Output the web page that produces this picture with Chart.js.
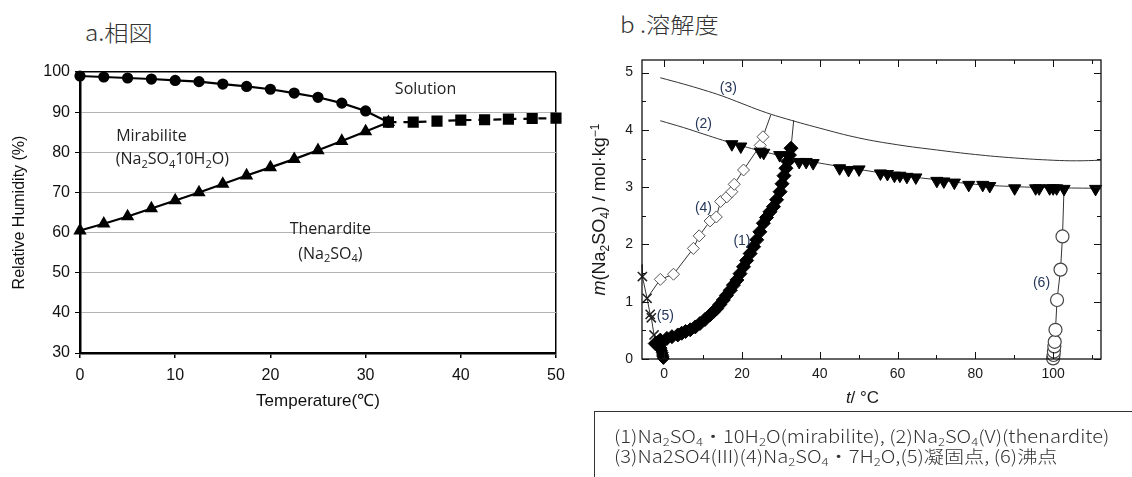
<!DOCTYPE html>
<html>
<head>
<meta charset="utf-8">
<script src="https://cdn.jsdelivr.net/npm/chart.js@4.4.1/dist/chart.umd.min.js"></script>
<style>
  html, body { margin: 0; padding: 0; background: #fff; }
  body { width: 1132px; height: 477px; position: relative; overflow: hidden; font-family: "Noto Sans CJK JP", sans-serif; }
  canvas { position: absolute; }
  #phase { left: 0; top: 0; }
  #solub { left: 580px; top: 0; }
  .title { position: absolute; font-size: 22px; color: #333; font-weight: 300; line-height: 1; white-space: nowrap;
           transform: scaleX(1.1); transform-origin: left top; }
  #titleA { left: 85px; top: 20px; }
  #titleB { left: 620px; top: 12px; }
  #notes { position: absolute; left: 594px; top: 411px; width: 560px; height: 90px; border: 1.5px solid #333; box-sizing: border-box; }
  #notesText { position: absolute; left: 19px; top: 14px; font-size: 17.5px; line-height: 20px; color: #333; font-weight: 300; white-space: nowrap;
               transform: scaleX(1.15); transform-origin: left top; }
  .sb { font-size: 0.65em; vertical-align: -0.25em; line-height: 0; }
</style>
</head>
<body>
<div class="title" id="titleA">a.相図</div>
<div class="title" id="titleB">b .溶解度</div>
<canvas id="phase" width="580" height="420"></canvas>
<canvas id="solub" width="552" height="412"></canvas>
<div id="notes"><div id="notesText">(1)Na<span class="sb">2</span>SO<span class="sb">4</span>・10H<span class="sb">2</span>O(mirabilite), (2)Na<span class="sb">2</span>SO<span class="sb">4</span>(V)(thenardite)<br>(3)Na2SO4(III)(4)Na<span class="sb">2</span>SO<span class="sb">4</span>・7H<span class="sb">2</span>O,(5)凝固点, (6)沸点</div></div>
<script>
// ---- a. phase diagram ----
const phaseTicksX = [0, 10, 20, 30, 40, 50];
const phaseTicksY = [30, 40, 50, 60, 70, 80, 90, 100];
const mirabiliteTemp = [0, 2.5, 5, 7.5, 10, 12.5, 15, 17.5, 20, 22.5, 25, 27.5, 30, 32.4];
const mirabiliteSolutionRH = [99.0, 98.75, 98.5, 98.25, 97.9, 97.6, 97.0, 96.4, 95.7, 94.75, 93.7, 92.25, 90.3, 87.5];
const thenarditeMirabiliteRH = [60.5, 62.2, 64.0, 66.0, 68.0, 70.0, 72.1, 74.2, 76.25, 78.3, 80.5, 82.8, 85.2, 87.5];
const thenarditeTemp = [32.4, 35, 37.5, 40, 42.5, 45, 47.5, 50];
const thenarditeSolutionRH = [87.5, 87.5, 87.75, 88.0, 88.1, 88.25, 88.4, 88.5];

// ---- b. solubility ----
const solTicksX = [0, 20, 40, 60, 80, 100];
const solTicksY = [0, 1, 2, 3, 4, 5];
const solMinorX = [10, 30, 50, 70, 90, 110];
const solMinorY = [0.5, 1.5, 2.5, 3.5, 4.5];
const curve3T = [-1, 5, 10, 15, 20, 25, 30, 40, 50, 60, 70, 80, 90, 100, 106, 112.3];
const curve3M = [4.91, 4.80, 4.70, 4.59, 4.46, 4.33, 4.22, 4.03, 3.86, 3.74, 3.65, 3.57, 3.51, 3.47, 3.46, 3.47];
const curve2T = [-1, 5, 10, 15, 20, 25, 30, 40, 50, 60, 70, 80, 90, 100, 112.3];
const curve2M = [4.16, 4.04, 3.93, 3.82, 3.72, 3.63, 3.55, 3.42, 3.31, 3.21, 3.13, 3.05, 3.01, 2.99, 2.98];
const thenarditeT = [17.4, 19.7, 24.7, 25.6, 29.7, 32.0, 34.7, 36.5, 38.3, 45.1, 47.4, 50.1, 55.6, 57.4, 59.2, 60.6, 62.4, 64.7,
                     70.1, 71.9, 74.6, 78.3, 81.9, 83.7, 90.1, 95.5, 96.4, 99.1, 100.0, 100.9, 102.8, 110.9];
const thenarditeM = [3.75, 3.71, 3.62, 3.60, 3.56, 3.52, 3.44, 3.44, 3.42, 3.33, 3.30, 3.31, 3.24, 3.23, 3.20, 3.20, 3.18, 3.17,
                     3.11, 3.10, 3.08, 3.04, 3.04, 3.02, 2.98, 2.98, 2.98, 2.98, 2.98, 2.98, 2.97, 2.97];
const mirabiliteT = [-2.3, -1.6, -1.0, 0.7, 2.0, 3.5, 4.5, 5.5, 6.7, 8.0, 9.2, 10.5, 11.8, 12.6, 13.5, 14.3, 15.2, 16.0, 17.0, 17.8,
                     18.7, 19.5, 20.4, 21.2, 22.1, 23.0, 23.8, 24.6, 25.5, 26.3, 27.2, 28.1, 28.9, 29.8, 30.3, 30.8, 31.3, 31.8, 32.2, 32.6];
const mirabiliteM = [0.27, 0.29, 0.33, 0.36, 0.39, 0.42, 0.45, 0.48, 0.51, 0.56, 0.62, 0.69, 0.77, 0.82, 0.88, 0.95, 1.03, 1.11, 1.20, 1.29,
                     1.38, 1.49, 1.61, 1.72, 1.84, 1.96, 2.08, 2.22, 2.37, 2.47, 2.57, 2.66, 2.78, 2.92, 3.06, 3.20, 3.33, 3.45, 3.56, 3.68];
const heptaT = [-1, 2.4, 7.5, 9, 11.8, 13.4, 14.5, 16.1, 17.4, 18, 20.4, 24.7, 25.4];
const heptaM = [1.39, 1.48, 1.93, 2.15, 2.41, 2.48, 2.75, 2.83, 2.92, 3.05, 3.30, 3.73, 3.88];
const iceT = [-1.2, -1.0, -0.8, -0.7, -0.5, -0.4, -0.3, -0.2];
const iceM = [0.30, 0.24, 0.19, 0.15, 0.11, 0.07, 0.04, 0.01];
const freezeT = [-5.7, -5.6, -4.4, -3.6, -3.3, -2.6, -2.0];
const freezeM = [1.65, 1.44, 1.06, 0.78, 0.72, 0.42, 0.30];
const boilT = [100.0, 100.1, 100.2, 100.3, 100.4, 100.6, 101.0, 101.9, 102.4];
const boilM = [0.01, 0.07, 0.13, 0.22, 0.30, 0.51, 1.03, 1.56, 2.14];
// thin extension lines to the upper curves
const ext1T = [32.6, 33.3], ext1M = [3.68, 4.17];
const ext4T = [25.4, 27.4], ext4M = [3.88, 4.26];
const ext4LowT = [-4.4, -1], ext4LowM = [1.06, 1.39];
const ext6T = [102.4, 102.8], ext6M = [2.14, 2.99];

const pts = (xs, ys) => xs.map((v, i) => ({ x: v, y: ys[i] }));

function richText(ctx, parts, x, y, size, family, color) {
  const fontFor = st => (st === 'i' ? 'italic ' : '') + Math.round(st === 'sub' || st === 'sup' ? size * 0.66 : size) + 'px ' + family;
  let w = 0;
  parts.forEach(p => { ctx.font = fontFor(p[1]); w += ctx.measureText(p[0]).width; });
  let cx = x - w / 2;
  ctx.fillStyle = color;
  ctx.textAlign = 'left';
  ctx.textBaseline = 'alphabetic';
  const base = y + size * 0.36;
  parts.forEach(p => {
    ctx.font = fontFor(p[1]);
    let dy = 0;
    if (p[1] === 'sub') dy = size * 0.22;
    if (p[1] === 'sup') dy = -size * 0.38;
    ctx.fillText(p[0], cx, base + dy);
    cx += ctx.measureText(p[0]).width;
  });
}

const phaseLabels = [
  { parts: [['Solution', '']], t: 36.3, rh: 96.0 },
  { parts: [['Mirabilite', '']], t: 7.5, rh: 84.2 },
  { parts: [['(Na', ''], ['2', 'sub'], ['SO', ''], ['4', 'sub'], ['10H', ''], ['2', 'sub'], ['O)', '']], t: 9.7, rh: 78.4 },
  { parts: [['Thenardite', '']], t: 26.3, rh: 61.1 },
  { parts: [['(Na', ''], ['2', 'sub'], ['SO', ''], ['4', 'sub'], [')', '']], t: 26.3, rh: 54.9 }
];

const phaseLabelPlugin = {
  id: 'phaseLabels',
  afterDatasetsDraw(chart) {
    const { ctx, scales: { x, y } } = chart;
    ctx.save();
    phaseLabels.forEach(l => richText(ctx, l.parts, x.getPixelForValue(l.t), y.getPixelForValue(l.rh), 16, '"Open Sans"', '#222'));
    ctx.restore();
  }
};

const black = { showLine: true, borderColor: '#000', backgroundColor: '#000', borderWidth: 2.2, clip: false };

new Chart(document.getElementById('phase'), {
  type: 'scatter',
  data: {
    datasets: [
      Object.assign({ data: pts(mirabiliteTemp, mirabiliteSolutionRH), pointStyle: 'circle', pointRadius: 4.5 }, black),
      Object.assign({ data: pts(mirabiliteTemp, thenarditeMirabiliteRH), pointStyle: 'triangle', pointRadius: 5.5 }, black),
      Object.assign({ data: pts(thenarditeTemp, thenarditeSolutionRH), pointStyle: 'rect', pointRadius: 6.3, borderDash: [8, 7] }, black)
    ]
  },
  options: {
    responsive: false, animation: false, devicePixelRatio: 1,
    layout: { padding: { left: 0, top: 72, right: 24, bottom: 0 } },
    plugins: { legend: { display: false }, tooltip: { enabled: false } },
    scales: {
      x: {
        type: 'linear', min: 0, max: 50,
        afterBuildTicks: s => { s.ticks = phaseTicksX.map(v => ({ value: v })); },
        afterFit: s => { s.height = 67; },
        grid: { color: c => (c.tick && c.tick.value === 50 ? '#000' : 'rgba(0,0,0,0)'), lineWidth: 1.5, tickColor: '#000', tickLength: 5 },
        border: { color: '#000', width: 2.5 },
        ticks: { font: { family: '"Liberation Sans"', size: 16 }, color: '#111', padding: 8, maxRotation: 0 },
        title: { display: true, text: 'Temperature(℃)', font: { family: '"Liberation Sans"', size: 17 }, color: '#111', padding: { top: 0, bottom: 8 } }
      },
      y: {
        type: 'linear', min: 30, max: 100,
        afterBuildTicks: s => { s.ticks = phaseTicksY.map(v => ({ value: v })); },
        afterFit: s => { s.width = 80; },
        grid: {
          color: c => (c.tick && c.tick.value === 100 ? '#000' : c.tick && c.tick.value === 30 ? 'rgba(0,0,0,0)' : '#b4b4b4'),
          lineWidth: c => (c.tick && c.tick.value === 100 ? 1.5 : 1), tickColor: '#000', tickLength: 5
        },
        border: { color: '#000', width: 2.5 },
        ticks: { font: { family: '"Liberation Sans"', size: 16 }, color: '#111', padding: 5 },
        title: { display: true, text: 'Relative Humidity (%)', font: { family: '"Liberation Sans"', size: 16 }, color: '#111', padding: { top: 10, bottom: 0 } }
      }
    }
  },
  plugins: [phaseLabelPlugin]
});

// ---- b chart ----
const curveLabels = [['(1)', 20.0, 2.06], ['(2)', 10.1, 4.10], ['(3)', 16.5, 4.72], ['(4)', 10.1, 2.63], ['(5)', 0.3, 0.75], ['(6)', 97.0, 1.32]];

const solFramePlugin = {
  id: 'solFrame',
  afterDatasetsDraw(chart) {
    const { ctx, chartArea: a, scales: { x, y } } = chart;
    ctx.save();
    ctx.strokeStyle = '#111';
    ctx.lineWidth = 1.3;
    ctx.strokeRect(a.left, a.top, a.right - a.left, a.bottom - a.top);
    ctx.lineWidth = 1;
    ctx.beginPath();
    const xt = (vals, len) => vals.forEach(v => {
      const px = Math.round(x.getPixelForValue(v)) + 0.5;
      ctx.moveTo(px, a.bottom); ctx.lineTo(px, a.bottom - len);
      ctx.moveTo(px, a.top); ctx.lineTo(px, a.top + len);
    });
    const yt = (vals, len) => vals.forEach(v => {
      const py = Math.round(y.getPixelForValue(v)) + 0.5;
      ctx.moveTo(a.left, py); ctx.lineTo(a.left + len, py);
      ctx.moveTo(a.right, py); ctx.lineTo(a.right - len, py);
    });
    xt(solTicksX, 7); xt(solMinorX, 4);
    yt(solTicksY, 7); yt(solMinorY, 4);
    ctx.stroke();

    ctx.font = '14px "Liberation Sans"';
    ctx.fillStyle = '#253659';
    ctx.textAlign = 'center';
    ctx.textBaseline = 'middle';
    curveLabels.forEach(l => ctx.fillText(l[0], x.getPixelForValue(l[1]), y.getPixelForValue(l[2])));

    richText(ctx, [['t', 'i'], ['/ °C', '']], (a.left + a.right) / 2 - 9, a.bottom + 38, 17, '"Liberation Sans"', '#1a1a1a');
    ctx.translate(a.left - 43, (a.top + a.bottom) / 2);
    ctx.rotate(-Math.PI / 2);
    richText(ctx, [['m', 'i'], ['(Na', ''], ['2', 'sub'], ['SO', ''], ['4', 'sub'], [') / mol·kg', ''], ['−1', 'sup']], 0, 0, 18, '"Liberation Sans"', '#1a1a1a');
    ctx.restore();
  }
};

const thin = { showLine: true, borderColor: '#333', borderWidth: 1, pointRadius: 0, clip: false, order: 5 };

new Chart(document.getElementById('solub'), {
  type: 'scatter',
  data: {
    datasets: [
      Object.assign({}, thin, { data: pts(curve3T, curve3M), tension: 0.4 }),
      Object.assign({}, thin, { data: pts(curve2T, curve2M), tension: 0.4 }),
      Object.assign({}, thin, { data: pts(ext1T, ext1M) }),
      Object.assign({}, thin, { data: pts(ext4T, ext4M) }),
      Object.assign({}, thin, { data: pts(ext4LowT, ext4LowM) }),
      Object.assign({}, thin, { data: pts(ext6T, ext6M) }),
      Object.assign({}, thin, { data: pts(iceT, iceM), pointRadius: 6, pointStyle: 'rectRot', pointBackgroundColor: '#000', pointBorderColor: '#000', order: 3 }),
      Object.assign({}, thin, { data: pts(freezeT, freezeM), order: 3, pointStyle: 'crossRot', pointBorderColor: '#222', pointBorderWidth: 1.5,
        pointRadius: c => (c.dataIndex === 0 || c.dataIndex === freezeT.length - 1 ? 0 : 6.5) }),
      Object.assign({}, thin, { data: pts(heptaT, heptaM), order: 2, pointStyle: 'rectRot', pointRadius: 6, pointBackgroundColor: '#fff', pointBorderColor: '#555', pointBorderWidth: 1 }),
      Object.assign({}, thin, { data: pts(mirabiliteT, mirabiliteM), order: 2, borderColor: '#000', pointStyle: 'rectRot', pointRadius: 7, pointBackgroundColor: '#000', pointBorderColor: '#000' }),
      Object.assign({}, thin, { data: pts(boilT, boilM), order: 2, pointStyle: 'circle', pointRadius: 6.5, pointBackgroundColor: '#fff', pointBorderColor: '#444', pointBorderWidth: 1.2 }),
      { data: pts(thenarditeT, thenarditeM), showLine: false, order: 1, clip: false, pointStyle: 'triangle', rotation: 180, pointRadius: 7,
        pointBackgroundColor: '#000', pointBorderColor: '#000' }
    ]
  },
  options: {
    responsive: false, animation: false, devicePixelRatio: 1,
    layout: { padding: { left: 0, top: 60, right: 31, bottom: 0 } },
    plugins: { legend: { display: false }, tooltip: { enabled: false } },
    scales: {
      x: {
        type: 'linear', min: -5.7, max: 112.3,
        afterBuildTicks: s => { s.ticks = solTicksX.map(v => ({ value: v })); },
        afterFit: s => { s.height = 53; },
        grid: { display: false, drawTicks: false }, border: { display: false },
        ticks: { font: { family: '"Liberation Sans"', size: 14 }, color: '#1a1a1a', padding: 7, maxRotation: 0 }
      },
      y: {
        type: 'linear', min: 0, max: 5.22,
        afterBuildTicks: s => { s.ticks = solTicksY.map(v => ({ value: v })); },
        afterFit: s => { s.width = 62; },
        grid: { display: false, drawTicks: false }, border: { display: false },
        ticks: { font: { family: '"Liberation Sans"', size: 14 }, color: '#1a1a1a', padding: 9 }
      }
    }
  },
  plugins: [solFramePlugin]
});
</script>
</body>
</html>
